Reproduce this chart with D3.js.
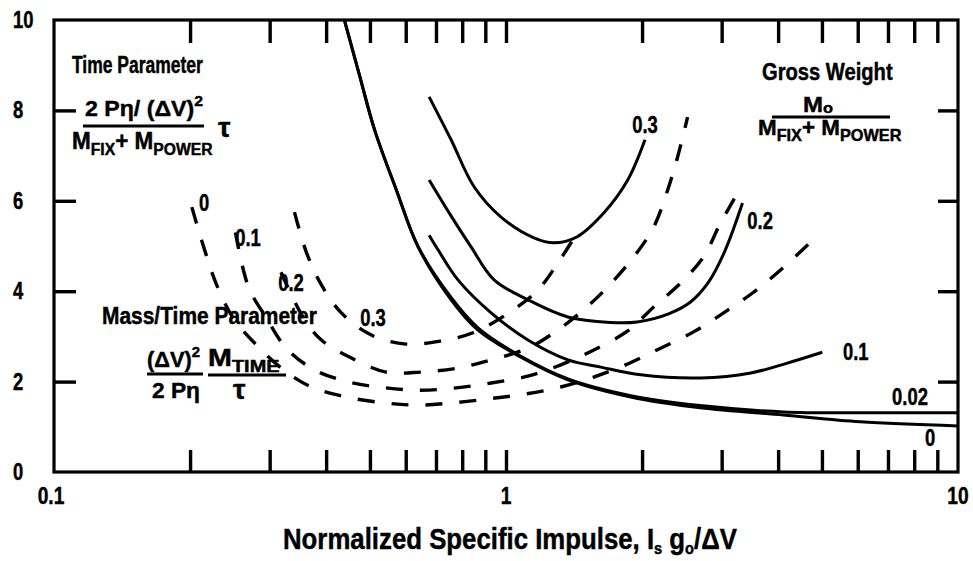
<!DOCTYPE html>
<html>
<head>
<meta charset="utf-8">
<script src="https://cdn.jsdelivr.net/npm/d3@7"></script>
<style>
  body { margin: 0; background: #fff; }
  svg { display: block; }
  text { font-family: "Liberation Sans", Arial, sans-serif; font-weight: bold; fill: #000; stroke: #000; stroke-width: 0.45px; }
</style>
</head>
<body>
<svg id="chart" width="973" height="561"></svg>
<script>
// ---- data ----
const xTickLabels = [0.1, 1, 10];
const yTickLabels = [0, 2, 4, 6, 8, 10];
const xMinorTicks = [0.2, 0.3, 0.4, 0.5, 0.6, 0.7, 0.8, 0.9, 1, 2, 3, 4, 5, 6, 7, 8, 9];
const yInnerTicks = [2, 4, 6, 8];

// gross weight curves (solid)
const gross0X   = [0.439, 0.474, 0.512, 0.572, 0.639, 0.756, 0.867, 1.079, 1.371, 1.888, 2.69, 4.11, 6.08, 10];
const gross0Y   = [10.0, 8.78, 7.57, 6.24, 4.98, 3.81, 3.14, 2.54, 2.04, 1.66, 1.42, 1.26, 1.11, 1.02];
const gross002X = [0.439, 0.474, 0.512, 0.572, 0.639, 0.756, 0.867, 1.079, 1.371, 1.888, 2.69, 4.11, 6.08, 10];
const gross002Y = [10.0, 8.78, 7.57, 6.24, 4.99, 3.86, 3.19, 2.56, 2.06, 1.69, 1.47, 1.33, 1.31, 1.31];
const gross01X  = [0.676, 0.708, 0.783, 0.927, 1.118, 1.371, 1.621, 1.986, 2.69, 3.48, 4.19, 5.01];
const gross01Y  = [5.24, 4.91, 4.25, 3.52, 2.92, 2.48, 2.32, 2.15, 2.08, 2.19, 2.41, 2.65];
const gross02X  = [0.676, 0.751, 0.837, 0.941, 1.118, 1.370, 1.70, 1.95, 2.29, 2.56, 2.806, 3.044, 3.336];
const gross02Y  = [6.46, 5.71, 4.98, 4.25, 3.81, 3.43, 3.31, 3.32, 3.50, 3.76, 4.20, 4.87, 5.95];
const gross03X  = [0.676, 0.756, 0.850, 0.975, 1.153, 1.276, 1.434, 1.645, 1.859, 2.03];
const gross03Y  = [8.30, 7.35, 6.31, 5.64, 5.18, 5.07, 5.20, 5.73, 6.46, 7.35];

// mass/time parameter curves (dashed)
const mt0X  = [0.2018, 0.2154, 0.229, 0.249, 0.278, 0.322, 0.371, 0.443, 0.538, 0.639, 0.764, 0.917, 1.096, 1.322, 1.564, 1.859, 2.198, 2.60, 3.03, 3.51, 4.05, 4.83];
const mt0Y  = [5.86, 4.91, 4.14, 3.41, 2.85, 2.26, 1.88, 1.66, 1.53, 1.48, 1.53, 1.62, 1.72, 1.88, 2.10, 2.39, 2.74, 3.10, 3.52, 3.96, 4.47, 5.18];
const mt01X = [0.252, 0.2694, 0.295, 0.3266, 0.3767, 0.450, 0.543, 0.648, 0.775, 0.927, 1.118, 1.322, 1.564, 1.859, 2.122, 2.434, 2.736, 2.983, 3.303];
const mt01Y = [5.30, 4.09, 3.41, 2.74, 2.26, 1.99, 1.86, 1.81, 1.86, 1.97, 2.12, 2.37, 2.70, 3.12, 3.65, 4.18, 4.76, 5.51, 6.28];
const mt02X = [0.3178, 0.3564, 0.3905, 0.455, 0.543, 0.648, 0.783, 0.927, 1.118, 1.302, 1.502, 1.688, 1.917, 2.122, 2.279, 2.397, 2.522];
const mt02Y = [4.42, 3.41, 2.92, 2.52, 2.21, 2.21, 2.30, 2.48, 2.74, 3.14, 3.63, 4.12, 4.76, 5.42, 6.24, 6.97, 7.85];
const mt03X = [0.3404, 0.362, 0.3905, 0.4323, 0.5035, 0.601, 0.7186, 0.845, 1.015, 1.177, 1.302, 1.449];
const mt03Y = [5.75, 4.85, 4.14, 3.52, 3.03, 2.83, 2.90, 3.08, 3.52, 4.03, 4.62, 5.35];

const grossLabels = ["0", "0.02", "0.1", "0.2", "0.3"];
const massTimeLabels = ["0", "0.1", "0.2", "0.3"];

// ---- chart ----
const svg = d3.select("#chart");
const x = d3.scaleLog().domain([0.1, 10]).range([54, 958]);
const y = d3.scaleLinear().domain([0, 10]).range([472, 20]);

const zip = (xs, ys) => xs.map((v, i) => [v, ys[i]]);

const solid = [
  { label: grossLabels[0], pts: zip(gross0X, gross0Y), at: [8.67, 0.75] },
  { label: grossLabels[1], pts: zip(gross002X, gross002Y), at: [7.83, 1.66] },
  { label: grossLabels[2], pts: zip(gross01X, gross01Y), at: [5.94, 2.65] },
  { label: grossLabels[3], pts: zip(gross02X, gross02Y), at: [3.65, 5.55] },
  { label: grossLabels[4], pts: zip(gross03X, gross03Y), at: [2.03, 7.68] }
];
const dashed = [
  { label: massTimeLabels[0], pts: zip(mt0X, mt0Y), at: [0.2147, 5.95] },
  { label: massTimeLabels[1], pts: zip(mt01X, mt01Y), at: [0.2686, 5.18] },
  { label: massTimeLabels[2], pts: zip(mt02X, mt02Y), at: [0.3344, 4.18] },
  { label: massTimeLabels[3], pts: zip(mt03X, mt03Y), at: [0.5079, 3.41] }
];

svg.append("clipPath").attr("id", "plot")
  .append("rect").attr("x", 54).attr("y", 20).attr("width", 904).attr("height", 452);

const line = d3.line()
  .x(d => x(d[0]))
  .y(d => y(d[1]))
  .curve(d3.curveCatmullRom.alpha(0.5));

const curves = svg.append("g").attr("clip-path", "url(#plot)");

curves.selectAll("path.dash")
  .data(dashed)
  .enter().append("path")
  .attr("class", "dash")
  .attr("d", d => line(d.pts))
  .attr("fill", "none")
  .attr("stroke", "#000")
  .attr("stroke-width", 3.4)
  .attr("stroke-dasharray", "17,17");

curves.selectAll("path.solid")
  .data(solid)
  .enter().append("path")
  .attr("class", "solid")
  .attr("d", d => line(d.pts))
  .attr("fill", "none")
  .attr("stroke", "#000")
  .attr("stroke-width", 3);

// frame
svg.append("rect")
  .attr("x", 54).attr("y", 20).attr("width", 904).attr("height", 452)
  .attr("fill", "none").attr("stroke", "#000").attr("stroke-width", 3.2);

// inward ticks
function ticks(g) {
  g.select(".domain").remove();
  g.selectAll(".tick line").attr("stroke", "#000").attr("stroke-width", 3.4);
  g.selectAll(".tick text").remove();
}
svg.append("g").attr("transform", "translate(0,20)")
  .call(d3.axisTop(x).tickValues(xMinorTicks).tickSizeInner(-23).tickSizeOuter(0)).call(ticks);
svg.append("g").attr("transform", "translate(0,472)")
  .call(d3.axisBottom(x).tickValues(xMinorTicks).tickSizeInner(-22).tickSizeOuter(0)).call(ticks);
svg.append("g").attr("transform", "translate(54,0)")
  .call(d3.axisLeft(y).tickValues(yInnerTicks).tickSizeInner(-22).tickSizeOuter(0)).call(ticks);
svg.append("g").attr("transform", "translate(958,0)")
  .call(d3.axisRight(y).tickValues(yInnerTicks).tickSizeInner(-20).tickSizeOuter(0)).call(ticks);

// condensed bold text helper
const SQ = 0.8;
function label(txt, px, py, size, anchor) {
  return svg.append("text")
    .attr("transform", `translate(${px},${py}) scale(${SQ},1)`)
    .attr("text-anchor", anchor || "middle")
    .attr("font-size", size)
    .text(txt);
}

yTickLabels.forEach(v => label(String(v), 13, y(v) + 8, 23, "start"));
xTickLabels.forEach(v => label(String(v), x(v) - (v === 0.1 ? 3 : 0), 504, 24));

solid.forEach(c => label(c.label, x(c.at[0]), y(c.at[1]) + 8, 23));
dashed.forEach(c => label(c.label, x(c.at[0]), y(c.at[1]) + 8, 23));

// fitted text (with tspans) across a given width
function fitted(build, x0, base, width, size) {
  const t = svg.append("text").attr("font-size", size);
  build(t);
  const w = t.node().getBBox().width;
  t.attr("transform", `translate(${x0},${base}) scale(${width / w},1)`);
  return t;
}
const sub = (t, s, fs) => t.append("tspan").attr("font-size", fs).attr("dy", 6).text(s);
const back = (t, s) => t.append("tspan").attr("dy", -6).text(s);

// axis title
fitted(t => {
  t.append("tspan").text("Normalized Specific Impulse, I");
  t.append("tspan").attr("font-size", 17).attr("dy", 5).text("s");
  t.append("tspan").attr("dy", -5).text(" g");
  t.append("tspan").attr("font-size", 17).attr("dy", 5).text("o");
  t.append("tspan").attr("dy", -5).text("/\u0394V");
}, 283, 549, 454, 30);

// Time Parameter block
fitted(t => t.text("Time Parameter"), 72, 73, 131, 23);
fitted(t => {
  t.append("tspan").text("2 P\u03b7/ (\u0394V)");
  t.append("tspan").attr("font-size", 15).attr("dy", -10).text("2");
}, 85, 116, 118, 22);
svg.append("line").attr("x1", 83).attr("x2", 204).attr("y1", 126).attr("y2", 126)
  .attr("stroke", "#000").attr("stroke-width", 2.8);
fitted(t => {
  t.append("tspan").text("M");
  sub(t, "FIX", 16);
  back(t, "+ M");
  sub(t, "POWER", 16);
}, 72, 149, 141, 23);
svg.append("text").attr("x", 218).attr("y", 137).attr("font-size", 28)
  .attr("font-family", "DejaVu Serif").text("\u03c4");

// Gross Weight block
fitted(t => t.text("Gross Weight"), 762, 80, 131, 23);
fitted(t => {
  t.append("tspan").text("M");
  t.append("tspan").attr("font-size", 15).attr("dy", 1).text("o");
}, 803, 112, 30, 22);
svg.append("line").attr("x1", 772).attr("x2", 890).attr("y1", 117).attr("y2", 117)
  .attr("stroke", "#000").attr("stroke-width", 2.8);
fitted(t => {
  t.append("tspan").text("M");
  sub(t, "FIX", 16);
  back(t, "+ M");
  sub(t, "POWER", 16);
}, 758, 135, 144, 22);

// Mass/Time Parameter block
fitted(t => t.text("Mass/Time Parameter"), 102, 324, 215, 23);
fitted(t => {
  t.append("tspan").text("(\u0394V)");
  t.append("tspan").attr("font-size", 15).attr("dy", -10).text("2");
}, 147, 367, 53, 22);
svg.append("line").attr("x1", 147).attr("x2", 203).attr("y1", 374).attr("y2", 374)
  .attr("stroke", "#000").attr("stroke-width", 2.8);
fitted(t => t.text("2 P\u03b7"), 152, 398, 48, 22);
fitted(t => {
  t.append("tspan").text("M");
  t.append("tspan").attr("font-size", 16).attr("dy", 6).text("TIME");
}, 208, 366, 72, 23);
svg.append("line").attr("x1", 208).attr("x2", 286).attr("y1", 375).attr("y2", 375)
  .attr("stroke", "#000").attr("stroke-width", 2.8);
svg.append("text").attr("x", 233).attr("y", 399).attr("font-size", 28)
  .attr("font-family", "DejaVu Serif").text("\u03c4");
</script>
</body>
</html>
